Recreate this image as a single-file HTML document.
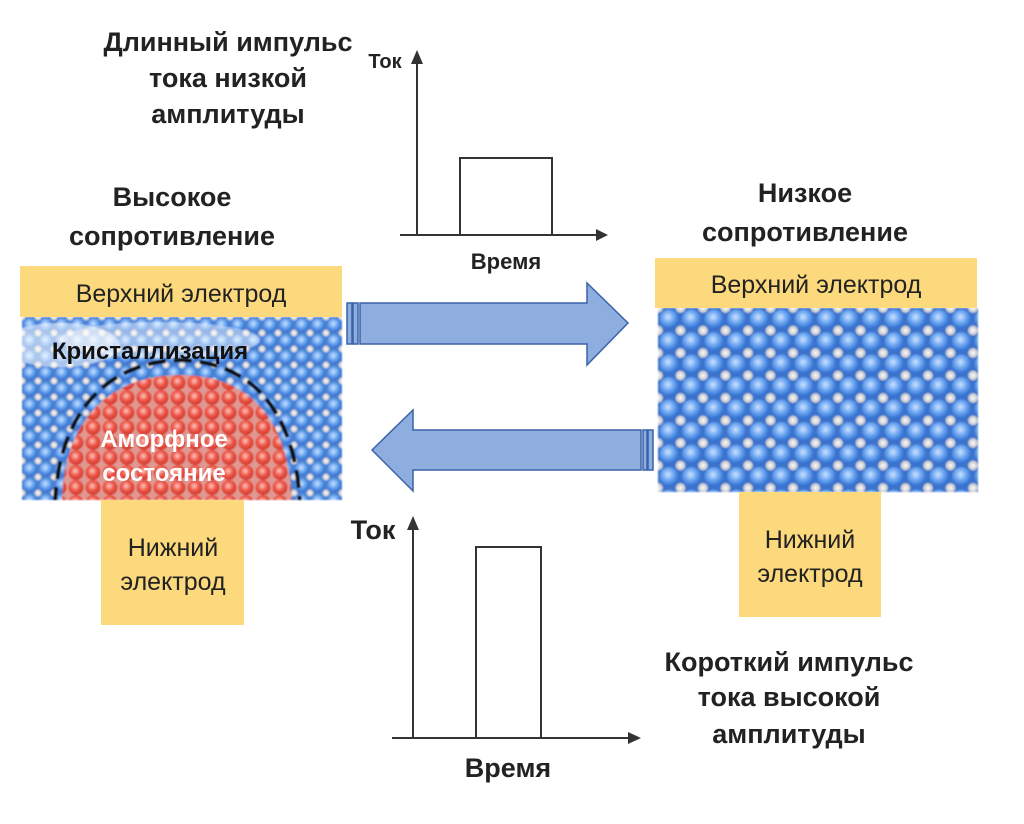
<!DOCTYPE html>
<html><head><meta charset="utf-8"><style>
body{margin:0;width:1024px;height:819px;background:#fff;overflow:hidden;font-family:"Liberation Sans","DejaVu Sans",sans-serif}
</style></head><body>
<svg width="1024" height="819" viewBox="0 0 1024 819" xmlns="http://www.w3.org/2000/svg">
<defs>
<radialGradient id="bg" cx="45%" cy="40%" r="60%"><stop offset="0" stop-color="#cfe3ff"/><stop offset="0.5" stop-color="#6fa8f2"/><stop offset="1" stop-color="#2f6fd0"/></radialGradient>
<radialGradient id="wg" cx="50%" cy="50%" r="50%"><stop offset="0" stop-color="#ffffff"/><stop offset="1" stop-color="#b8bcc4"/></radialGradient>
<radialGradient id="rg" cx="45%" cy="40%" r="60%"><stop offset="0" stop-color="#ffc8c0"/><stop offset="0.5" stop-color="#ee5a4c"/><stop offset="1" stop-color="#d03428"/></radialGradient>
<pattern id="latR" x="658" y="308" width="22.5" height="22.5" patternUnits="userSpaceOnUse">
<rect width="22.5" height="22.5" fill="#3a72cc"/>
<circle cx="11" cy="11" r="9.5" fill="url(#bg)"/>
<circle cx="0" cy="0" r="5" fill="url(#wg)"/><circle cx="22.5" cy="0" r="5" fill="url(#wg)"/><circle cx="0" cy="22.5" r="5" fill="url(#wg)"/><circle cx="22.5" cy="22.5" r="5" fill="url(#wg)"/>
</pattern>
<pattern id="latL" x="22" y="317" width="16" height="16" patternUnits="userSpaceOnUse">
<rect width="16" height="16" fill="#4a80d4"/>
<circle cx="8" cy="8" r="6.8" fill="url(#bg)"/>
<circle cx="0" cy="0" r="3.6" fill="url(#wg)"/><circle cx="16" cy="0" r="3.6" fill="url(#wg)"/><circle cx="0" cy="16" r="3.6" fill="url(#wg)"/><circle cx="16" cy="16" r="3.6" fill="url(#wg)"/>
</pattern>
<pattern id="red" x="0" y="0" width="17" height="15" patternUnits="userSpaceOnUse">
<rect width="17" height="15" fill="#e09890"/>
<circle cx="8" cy="7.5" r="7.5" fill="url(#rg)"/>
</pattern>
<filter id="bl"><feGaussianBlur stdDeviation="0.8"/></filter>
<clipPath id="cl"><rect x="22" y="317" width="320" height="183"/></clipPath>
</defs>

<g filter="url(#bl)">
<rect x="22" y="317" width="320" height="183" fill="url(#latL)"/>
<g clip-path="url(#cl)">
<ellipse cx="60" cy="345" rx="60" ry="22" fill="#fff" opacity="0.55"/>
<ellipse cx="160" cy="340" rx="100" ry="18" fill="#fff" opacity="0.45"/>
<path d="M62,505 C62,420 110,375 180,375 C250,375 290,420 292,505 Z" fill="url(#red)"/>
<path d="M55,505 C58,415 105,362 180,360 C255,362 296,415 300,505" fill="none" stroke="#111" stroke-width="4" stroke-dasharray="18 8"/>
</g>
</g>
<rect x="20" y="266" width="322" height="51" fill="#fbd97c"/>
<text x="181" y="302" font-size="25" text-anchor="middle" fill="#222">Верхний электрод</text>
<text x="150" y="359" font-size="24" font-weight="bold" text-anchor="middle" fill="#111">Кристаллизация</text>
<text x="164" y="447" font-size="24" font-weight="bold" text-anchor="middle" fill="#fff">Аморфное</text>
<text x="164" y="481" font-size="24" font-weight="bold" text-anchor="middle" fill="#fff">состояние</text>
<rect x="101" y="500" width="143" height="125" fill="#fbd97c"/>
<text x="173" y="556" font-size="25" text-anchor="middle" fill="#222">Нижний</text>
<text x="173" y="590" font-size="25" text-anchor="middle" fill="#222">электрод</text>

<rect x="658" y="308" width="320" height="184" fill="url(#latR)" filter="url(#bl)"/>
<rect x="655" y="258" width="322" height="50" fill="#fbd97c"/>
<text x="816" y="293" font-size="25" text-anchor="middle" fill="#222">Верхний электрод</text>
<rect x="739" y="492" width="142" height="125" fill="#fbd97c"/>
<text x="810" y="548" font-size="25" text-anchor="middle" fill="#222">Нижний</text>
<text x="810" y="582" font-size="25" text-anchor="middle" fill="#222">электрод</text>

<g fill="#8eaee0" stroke="#3a62a8" stroke-width="1.5">
<rect x="347" y="303" width="5" height="41"/><rect x="353" y="303" width="5" height="41"/>
<path d="M360,303 H587 V283 L628,323 L587,365 V344 H360 Z"/>
<rect x="643" y="430" width="4" height="40"/><rect x="648" y="430" width="5" height="40"/>
<path d="M641,430 H413 V410 L372,450 L413,491 V470 H641 Z"/>
</g>

<g stroke="#333" stroke-width="2" fill="none">
<line x1="417" y1="235" x2="417" y2="62"/><line x1="400" y1="235" x2="598" y2="235"/>
<polyline points="460,235 460,158 552,158 552,235"/>
</g>
<path d="M411,64 L417,50 L423,64 Z" fill="#333"/><path d="M596,229 L608,235 L596,241 Z" fill="#333"/>
<text x="385" y="68" font-size="20" font-weight="bold" text-anchor="middle" fill="#222">Ток</text>
<text x="506" y="269" font-size="22" font-weight="bold" text-anchor="middle" fill="#222">Время</text>
<g font-size="27" font-weight="bold" text-anchor="middle" fill="#222">
<text x="228" y="51">Длинный импульс</text>
<text x="228" y="87">тока низкой</text>
<text x="228" y="123">амплитуды</text>
<text x="172" y="206">Высокое</text>
<text x="172" y="245">сопротивление</text>
<text x="805" y="202">Низкое</text>
<text x="805" y="241">сопротивление</text>
<text x="789" y="671">Короткий импульс</text>
<text x="789" y="706">тока высокой</text>
<text x="789" y="743">амплитуды</text>
</g>

<g stroke="#333" stroke-width="2" fill="none">
<line x1="413" y1="738" x2="413" y2="528"/><line x1="392" y1="738" x2="630" y2="738"/>
<polyline points="476,738 476,547 541,547 541,738"/>
</g>
<path d="M407,530 L413,516 L419,530 Z" fill="#333"/><path d="M628,732 L641,738 L628,744 Z" fill="#333"/>
<text x="373" y="539" font-size="27" font-weight="bold" text-anchor="middle" fill="#222">Ток</text>
<text x="508" y="777" font-size="27" font-weight="bold" text-anchor="middle" fill="#222">Время</text>
</svg>
</body></html>
